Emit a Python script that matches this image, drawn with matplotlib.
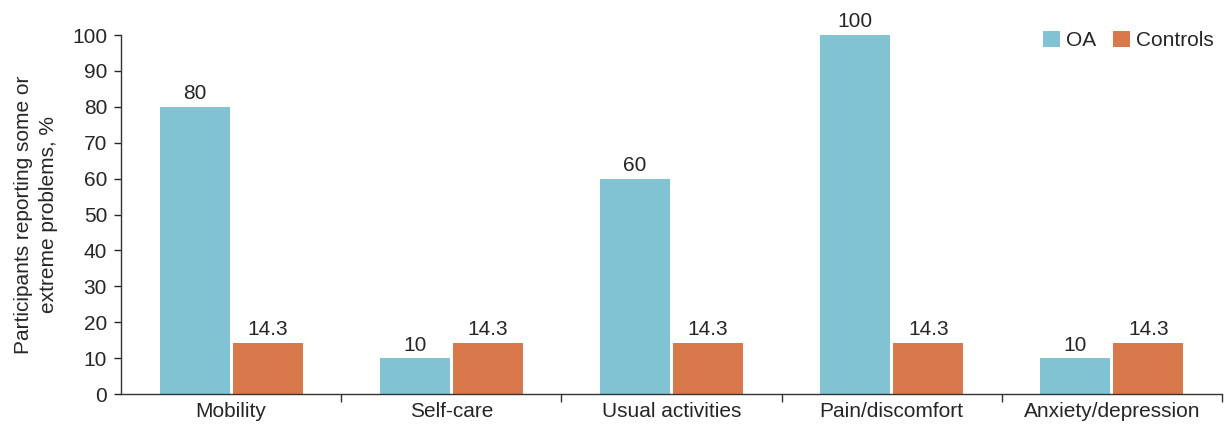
import numpy as np
import matplotlib.pyplot as plt

categories = ["Mobility", "Self-care", "Usual activities", "Pain/discomfort", "Anxiety/depression"]
oa_vals = [80, 10, 60, 100, 10]
control_vals = [14.3, 14.3, 14.3, 14.3, 14.3]
oa_labels = ["80", "10", "60", "100", "10"]
control_labels = ["14.3", "14.3", "14.3", "14.3", "14.3"]

plt.rcParams['font.family'] = ['Liberation Sans', 'DejaVu Sans']
text_col = '#262626'
oa_col = '#82C3D3'
ctrl_col = '#D9784A'
fs = 15

fig = plt.figure(figsize=(12.27, 4.28), dpi=100)
ax = fig.add_axes([0.0986, 0.0794, 0.8973, 0.8388])

x = np.arange(len(categories))
w = 0.318
gap = 0.007
b1 = ax.bar(x - w / 2 - gap, oa_vals, w, color=oa_col, label='OA')
b2 = ax.bar(x + w / 2 + gap, control_vals, w, color=ctrl_col, label='Controls')

for bar, lab in zip(b1, oa_labels):
    ax.text(bar.get_x() + bar.get_width() / 2, bar.get_height() + 1.0, lab,
            ha='center', va='bottom', fontsize=fs, color=text_col)
for bar, lab in zip(b2, control_labels):
    ax.text(bar.get_x() + bar.get_width() / 2, bar.get_height() + 1.0, lab,
            ha='center', va='bottom', fontsize=fs, color=text_col)

ax.set_xlim(-0.5, len(categories) - 0.5)
ax.set_ylim(0, 100)
ax.set_yticks(range(0, 101, 10))
ax.tick_params(axis='y', labelsize=fs, colors=text_col, length=5, width=1, pad=5)
ax.set_xticks(x)
ax.set_xticklabels(categories, fontsize=fs, color=text_col)
ax.tick_params(axis='x', length=0, pad=6)
ax.set_xticks(np.arange(0.5, len(categories) - 0.5 + 0.01, 1), minor=True)
ax.tick_params(axis='x', which='minor', length=6, width=1, color='#333333')

for s in ['top', 'right']:
    ax.spines[s].set_visible(False)
for s in ['left', 'bottom']:
    ax.spines[s].set_color('#333333')
    ax.spines[s].set_linewidth(1)

ax.set_ylabel("Participants reporting some or\nextreme problems, %", fontsize=fs,
              color=text_col, labelpad=10, linespacing=1.4)

ax.legend(loc='upper right', bbox_to_anchor=(1.0, 1.035), ncol=2, frameon=False,
          fontsize=fs, handlelength=0.8, handleheight=0.8, handletextpad=0.3,
          columnspacing=0.8, labelcolor=text_col, borderaxespad=0.0)

fig.savefig('out.png', dpi=100)
